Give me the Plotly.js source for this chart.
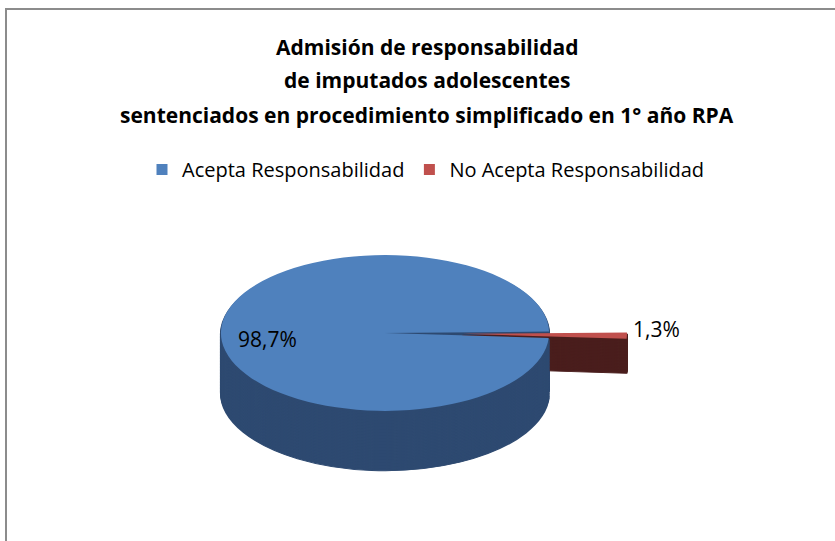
<!DOCTYPE html>
<html><head><meta charset="utf-8">
<script src="https://cdn.plot.ly/plotly-3.0.1.min.js"></script>
<style>
html,body{margin:0;padding:0;background:#fff;overflow:hidden}
#frame{position:absolute;left:5px;top:8px;width:840px;height:540px;border-top:2px solid #8c8c8c;border-left:2px solid #8c8c8c;box-sizing:border-box}
#main{position:absolute;left:0;top:0;width:835px;height:541px;z-index:3}
#pie{position:absolute;left:135px;top:218px;width:500px;height:640px;transform:scaleY(0.475);transform-origin:0 0;z-index:1}
</style></head>
<body>
<div id="frame"></div>
<div id="pie"></div>
<div id="main"></div>
<script>
const titleLines = ['Admisión de responsabilidad','de imputados adolescentes','sentenciados en procedimiento simplificado en 1° año RPA'];
const labels = ['No Acepta Responsabilidad','Acepta Responsabilidad'];
const values = [1.3, 98.7];
const topColors = ['#C0504D','#4F81BD'];
const sideColors = ['#4A1E1D','#2E4A71'];
const pulls = [0.475, 0];
const legendOrder = [1, 0];

const FONT = 'Open Sans, Noto Sans, sans-serif';

const legendTraces = legendOrder.map(i => ({
  type:'scatter', mode:'markers', x:[null], y:[null], name:labels[i],
  marker:{symbol:'square', size:11, color:topColors[i]}, hoverinfo:'skip'
}));
const ty = [47, 80, 115];
const ann = titleLines.map((t,k) => ({
  text:'<b>'+t+'</b>', xref:'paper', yref:'paper', x:427/835, y:1-ty[k]/541,
  xanchor:'center', yanchor:'middle', showarrow:false,
  font:{family:FONT, size:21, color:'#000'}
}));
const fmt = v => v.toFixed(1).replace('.', ',') + '%';
const labPos = [[656,329],[267,339]];
values.forEach((v,i) => ann.push({
  text:fmt(v), xref:'paper', yref:'paper', x:labPos[i][0]/835, y:1-labPos[i][1]/541,
  xanchor:'center', yanchor:'middle', showarrow:false,
  font:{family:FONT, size:21, color:'#000'}
}));
Plotly.newPlot('main', legendTraces, {
  width:835, height:541, margin:{l:0,r:0,t:0,b:0},
  paper_bgcolor:'rgba(0,0,0,0)', plot_bgcolor:'rgba(0,0,0,0)',
  xaxis:{visible:false}, yaxis:{visible:false},
  showlegend:true,
  legend:{orientation:'h', x:426/835, xanchor:'center', y:1-150/541, yanchor:'top',
    font:{family:FONT, size:20, color:'#000'}, itemwidth:30, traceorder:'normal'},
  annotations:ann
}, {displayModeBar:false, staticPlot:true});

// pie layers (squashed via CSS to an ellipse)
const W = 500, H = 640, R = 242, depth = 126, redDepth = 74, N = 40;
const pieTraces = [];
for (let j = N; j >= 0; j--) {
  const dy = depth * j / N;
  const isTop = j === 0;
  const cols = isTop ? topColors : sideColors.map((c,i) => (i === 0 && dy > redDepth) ? 'rgba(0,0,0,0)' : c);
  pieTraces.push({
    type:'pie', labels:labels, values:values, sort:false, direction:'counterclockwise', rotation:89,
    pull:pulls, textinfo:'none', hoverinfo:'skip', showlegend:false,
    marker:{colors:cols, line:{width:isTop?0:2, color:isTop?'#fff':cols}},
    domain:{x:[0,1], y:[1-(2*R+dy)/H, 1-dy/H]}
  });
}
Plotly.newPlot('pie', pieTraces, {
  width:W, height:H, margin:{l:0,r:0,t:0,b:0},
  paper_bgcolor:'rgba(0,0,0,0)', showlegend:false
}, {displayModeBar:false, staticPlot:true});
</script>
</body></html>
